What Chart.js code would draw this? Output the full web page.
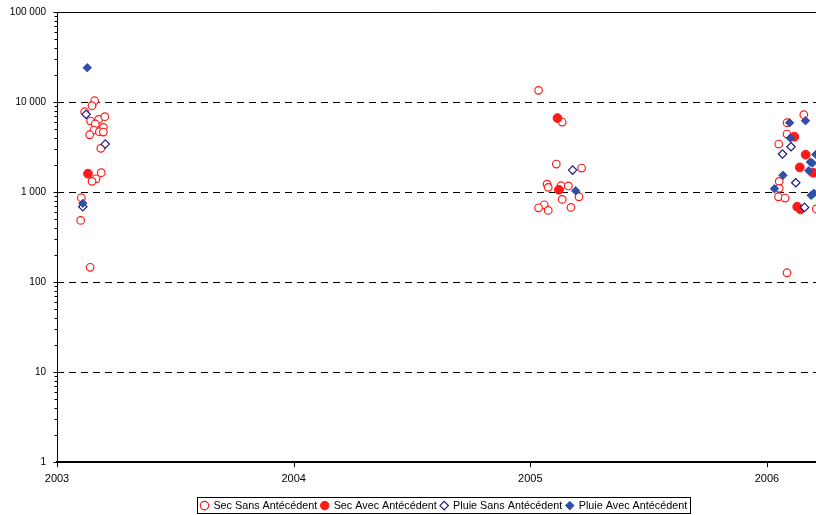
<!DOCTYPE html>
<html>
<head>
<meta charset="utf-8">
<script src="https://cdn.jsdelivr.net/npm/chart.js@4/dist/chart.umd.min.js"></script>
<style>
  html, body { margin: 0; padding: 0; background: #fff; overflow: hidden; }
  #wrap { width: 816px; height: 515px; overflow: hidden; }
</style>
</head>
<body>
<div id="wrap"><canvas id="c" width="822" height="515"></canvas></div>
<script>
// Series labels
const seriesNames = ['Sec Sans Antécédent', 'Sec Avec Antécédent', 'Pluie Sans Antécédent', 'Pluie Avec Antécédent'];

// Sampling dates (decimal years) and measured values, one pair of arrays per series
const secSansDates = [
  2003.159, 2003.148, 2003.117, 2003.142, 2003.176, 2003.202, 2003.162, 2003.196, 2003.156, 2003.179,
  2003.196, 2003.138, 2003.185, 2003.187, 2003.165, 2003.148, 2003.103, 2003.100, 2003.140,
  2005.035, 2005.135, 2005.110, 2005.217, 2005.071, 2005.076, 2005.130, 2005.161, 2005.206, 2005.135,
  2005.059, 2005.035, 2005.076, 2005.172,
  2006.156, 2006.085, 2006.085, 2006.050, 2006.052, 2006.052, 2006.049, 2006.077, 2006.209, 2006.085
];
const secSansValues = [
  10330, 9100, 7800, 6150, 6420, 6870, 5700, 5230, 4885, 4680,
  4640, 4330, 3060, 1640, 1405, 1315, 865, 485, 146,
  13490, 5995, 2048, 1848, 1227, 1128, 1175, 1170, 887, 829,
  722, 669, 626, 676,
  7230, 5890, 4410, 3415, 1315, 1100, 887, 858, 650, 127
];

const secAvecDates  = [2003.131, 2005.115, 2005.121, 2006.116, 2006.164, 2006.139, 2006.195, 2006.128, 2006.142];
const secAvecValues = [1600, 6640, 1061, 4115, 2600, 1880, 1640, 687, 643];

const pluieSansDates  = [2003.123, 2003.204, 2003.109, 2005.179, 2006.102, 2006.066, 2006.122, 2006.159];
const pluieSansValues = [7300, 3415, 687, 1755, 3190, 2645, 1268, 676];

const pluieAvecDates  = [2003.128, 2003.109, 2005.192, 2006.163, 2006.096, 2006.099, 2006.184, 2006.192,
                         2006.177, 2006.068, 2006.032, 2006.187, 2006.198, 2006.207];
const pluieAvecValues = [24050, 750, 1033, 6200, 5890, 3980, 2154, 2100,
                         1726, 1535, 1088, 919, 970, 2620];

// Axis ticks
const yearTicks  = [2003, 2004, 2005, 2006];
const valueTicks = [1, 10, 100, 1000, 10000, 100000];
const dashedLevels = [10, 100, 1000, 10000];

const toPoints = (xs, ys) => xs.map((x, i) => ({ x, y: ys[i] }));
const FONT = '"Liberation Sans", Arial, sans-serif';
const LEGEND_LEFT = 197;

// Axis lines, dashed level lines, tick marks and the legend frame
const framePlugin = {
  id: 'frame',
  afterUpdate(chart) {
    // slide the legend so that its frame starts at LEGEND_LEFT
    const lg = chart.legend;
    if (!lg || !lg.legendHitBoxes || !lg.legendHitBoxes.length) return;
    const minLeft = Math.min(...lg.legendHitBoxes.map(b => b.left));
    const dx = LEGEND_LEFT + 4 - minLeft;
    lg.left += dx; lg.right += dx;
    lg.legendHitBoxes.forEach(b => { b.left += dx; });
  },
  beforeDatasetsDraw(chart) {
    const { ctx, chartArea: { left, right, bottom }, scales: { x, y } } = chart;
    ctx.save();
    ctx.strokeStyle = '#000';
    ctx.lineWidth = 1;

    ctx.setLineDash([7, 5]);
    dashedLevels.forEach(v => {
      const py = Math.round(y.getPixelForValue(v)) + 0.5;
      ctx.beginPath(); ctx.moveTo(left, py); ctx.lineTo(right, py); ctx.stroke();
    });
    ctx.setLineDash([]);

    const topY = Math.round(y.getPixelForValue(100000)) + 0.5;
    ctx.beginPath(); ctx.moveTo(left, topY); ctx.lineTo(right, topY); ctx.stroke();

    const lx = Math.round(left) + 0.5;
    ctx.beginPath(); ctx.moveTo(lx, topY); ctx.lineTo(lx, bottom); ctx.stroke();

    // minor and major ticks on the value axis
    for (let k = 0; k <= 5; k++) {
      for (let m = 1; m <= 9; m++) {
        const v = m * Math.pow(10, k);
        if (v > 100000) break;
        const py = Math.round(y.getPixelForValue(v)) + 0.5;
        ctx.beginPath(); ctx.moveTo(lx - (m === 1 ? 4 : 3), py); ctx.lineTo(lx, py); ctx.stroke();
      }
    }

    // year ticks
    yearTicks.forEach(t => {
      const px = Math.round(x.getPixelForValue(t)) + 0.5;
      ctx.beginPath(); ctx.moveTo(px, bottom); ctx.lineTo(px, bottom + 5); ctx.stroke();
    });

    // bottom axis
    ctx.lineWidth = 2;
    const by = Math.round(y.getPixelForValue(1));
    ctx.beginPath(); ctx.moveTo(left - 1, by); ctx.lineTo(right, by); ctx.stroke();
    ctx.restore();
  },
  afterDraw(chart) {
    const lg = chart.legend;
    if (!lg || !lg.legendHitBoxes || !lg.legendHitBoxes.length) return;
    const boxes = lg.legendHitBoxes;
    const l = Math.min(...boxes.map(b => b.left)) - 4;
    const r = Math.max(...boxes.map(b => b.left + b.width)) + 3;
    const t = Math.min(...boxes.map(b => b.top)) - 3;
    const b = Math.max(...boxes.map(bx => bx.top + bx.height)) + 2;
    const ctx = chart.ctx;
    ctx.save();
    ctx.strokeStyle = '#000';
    ctx.lineWidth = 1;
    ctx.strokeRect(Math.round(l) + 0.5, Math.round(t) + 0.5, Math.round(r - l), Math.round(b - t));
    ctx.restore();
  }
};

const RED = '#ff1a1a';
const NAVY = '#1c1c80';
const BLUE = '#3050a8';

new Chart(document.getElementById('c'), {
  type: 'scatter',
  data: {
    datasets: [
      { label: seriesNames[0], data: toPoints(secSansDates, secSansValues), order: 4,
        pointStyle: 'circle', pointRadius: 3.8, pointBorderWidth: 1.2,
        pointBackgroundColor: '#ffffff', pointBorderColor: RED, backgroundColor: '#ffffff', borderColor: RED },
      { label: seriesNames[1], data: toPoints(secAvecDates, secAvecValues), order: 3,
        pointStyle: 'circle', pointRadius: 4.4, pointBorderWidth: 1,
        pointBackgroundColor: RED, pointBorderColor: RED, backgroundColor: RED, borderColor: RED },
      { label: seriesNames[2], data: toPoints(pluieSansDates, pluieSansValues), order: 2,
        pointStyle: 'rectRot', pointRadius: 4.2, pointBorderWidth: 1.2,
        pointBackgroundColor: '#ffffff', pointBorderColor: NAVY, backgroundColor: '#ffffff', borderColor: NAVY },
      { label: seriesNames[3], data: toPoints(pluieAvecDates, pluieAvecValues), order: 1,
        pointStyle: 'rectRot', pointRadius: 4.2, pointBorderWidth: 1,
        pointBackgroundColor: BLUE, pointBorderColor: BLUE, backgroundColor: BLUE, borderColor: BLUE }
    ]
  },
  options: {
    responsive: false,
    animation: false,
    devicePixelRatio: 1,
    layout: { padding: { top: 12, right: 0, bottom: -6, left: 0 } },
    scales: {
      x: {
        type: 'linear',
        min: 2003,
        max: 2006.21,
        afterBuildTicks: s => { s.ticks = yearTicks.map(v => ({ value: v })); },
        afterFit: s => { s.height = 34; s.paddingLeft = 0; s.paddingRight = 0; },
        grid: { display: false, drawTicks: false },
        border: { display: false },
        ticks: { color: '#000', padding: 10, maxRotation: 0, font: { family: FONT, size: 11 },
                 callback: v => String(v) }
      },
      y: {
        type: 'logarithmic',
        min: 1,
        max: 100000,
        afterBuildTicks: s => { s.ticks = valueTicks.map(v => ({ value: v })); },
        afterFit: s => { s.width = 57; s.paddingTop = 0; s.paddingBottom = 0; },
        grid: { display: false, drawTicks: false },
        border: { display: false },
        ticks: { color: '#000', padding: 11, font: { family: FONT, size: 10 },
                 callback: v => String(Math.round(v)).replace(/\B(?=(\d{3})+(?!\d))/g, ' ') }
      }
    },
    plugins: {
      legend: {
        position: 'bottom',
        labels: {
          usePointStyle: true,
          boxWidth: 7, boxHeight: 6,
          padding: 4,
          color: '#000',
          font: { family: FONT, size: 10.8 },
          sort: (a, b) => a.datasetIndex - b.datasetIndex
        }
      },
      tooltip: { enabled: false }
    }
  },
  plugins: [framePlugin]
});
</script>
</body>
</html>
